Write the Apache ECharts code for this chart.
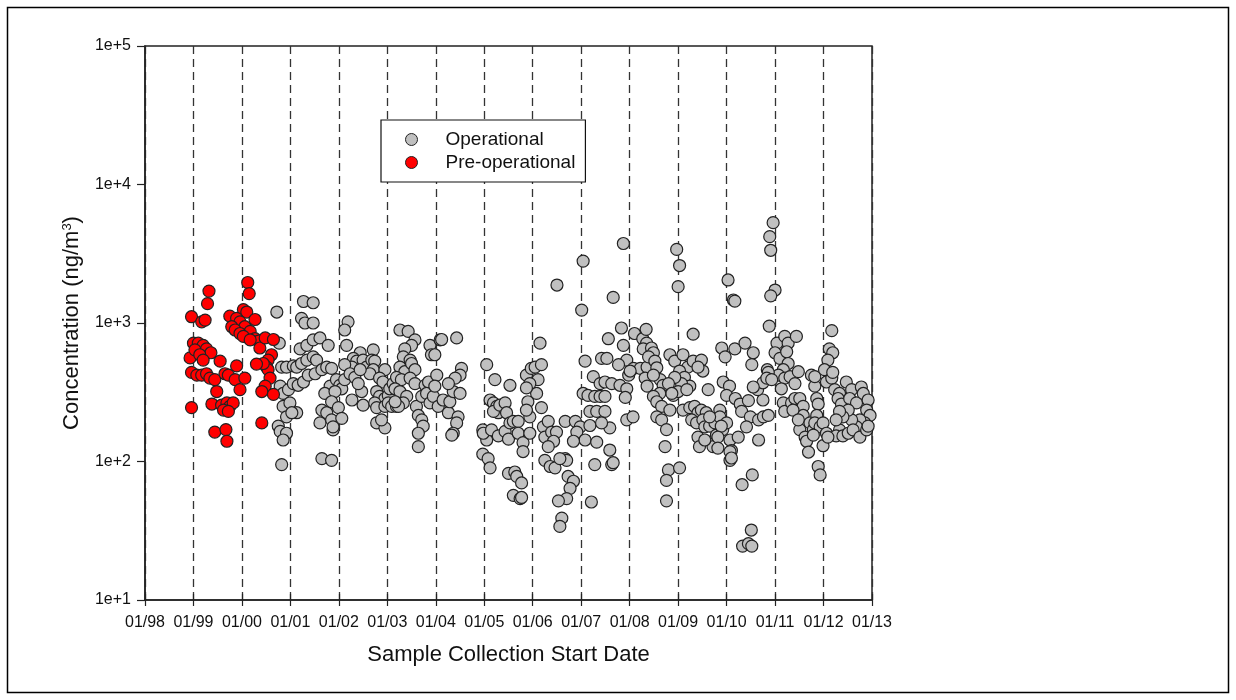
<!DOCTYPE html>
<html>
<head>
<meta charset="utf-8">
<script src="https://cdn.jsdelivr.net/npm/echarts@6/dist/echarts.min.js"></script>
<style>
  html, body { margin: 0; padding: 0; background: #fff; }
  #chart { width: 1236px; height: 700px; }
</style>
</head>
<body>
<div id="chart"></div>
<script>
// Sample start date (decimal year) and concentration (ng/m3)
const preOperational = [
  [1998.96,1110],[1999.17,1020],[1999.24,1050],[1999.32,1700],[1999.29,1380],[1999.0,715],[1999.1,715],
  [1999.2,690],[1999.27,650],[1999.36,610],[1998.93,560],[1999.03,640],[1999.13,590],[1999.2,540],
  [1998.96,440],[1999.07,420],[1999.17,420],[1999.27,430],[1999.34,400],[1999.44,390],[1999.55,530],
  [1999.65,430],[1999.72,420],[1999.89,490],[1999.86,390],[1999.96,330],[2000.06,400],[1999.48,320],
  [1998.96,245],[1999.38,260],[1999.58,255],[1999.69,265],[1999.75,250],[1999.82,265],[1999.62,235],
  [1999.72,230],[1999.44,163],[1999.67,170],[1999.69,140],[2000.12,1960],[2000.15,1630],[2000.03,1250],
  [2000.1,1200],[1999.75,1120],[1999.89,1080],[1999.96,1020],[2000.06,940],[2000.17,870],[2000.27,770],
  [2000.34,740],[2000.37,660],[2000.27,1060],[1999.79,940],[1999.86,890],[1999.96,840],[2000.03,800],
  [2000.17,755],[2000.48,780],[2000.65,760],[2000.61,590],[2000.54,540],[2000.51,480],[2000.54,460],
  [2000.44,510],[2000.3,505],[2000.58,400],[2000.48,350],[2000.41,320],[2000.65,305],[2000.41,190]
];

const operational = [
  // 2000 - 2001
  [2000.72,1200],[2000.77,715],[2000.82,480],[2000.92,480],[2001.06,490],[2001.13,480],[2001.23,510],
  [2001.34,540],[2001.47,570],[2001.54,540],[2001.2,650],[2001.34,690],[2001.47,755],[2001.61,780],
  [2001.78,690],[2001.27,1430],[2001.47,1400],[2001.23,1080],[2001.3,1000],[2001.47,1000],[2000.79,350],
  [2000.85,310],[2000.96,330],[2001.06,365],[2001.16,355],[2001.27,375],[2001.37,420],[2001.51,430],
  [2001.65,460],[2001.75,480],[2001.85,470],[2000.85,250],[2000.99,265],[2001.13,225],[2000.92,210],
  [2001.03,225],[2000.75,180],[2000.79,165],[2000.92,160],[2000.85,143],[2000.82,95],[2001.65,105],
  [2001.85,102],[2001.65,235],[2001.75,225],[2001.61,190],[2001.85,200],[2001.88,169],[2001.95,330],
  [2001.82,350],[2001.71,310],
  // 2002 - 2005
  [2002.19,1020],[2002.12,890],[2002.16,690],[2002.44,610],[2002.71,640],[2002.3,555],[2002.37,530],
  [2002.27,480],[2002.5,540],[2002.57,480],[2002.68,540],[2002.74,530],[2002.71,460],[2002.64,430],
  [2002.12,500],[2001.95,390],[2002.02,355],[2002.06,335],[2001.92,320],[2002.12,390],[2002.23,430],
  [2002.33,405],[2002.44,460],[2002.47,320],[2002.27,278],[2002.5,255],[2002.4,365],[2001.85,270],
  [2001.99,245],[2002.06,205],[2001.88,178],[2002.95,460],[2002.84,400],[2002.91,375],[2002.78,320],
  [2002.84,295],[2002.95,285],[2003.02,300],[2003.05,335],[2003.12,365],[2002.74,265],[2002.78,245],
  [2002.95,250],[2003.02,265],[2003.09,250],[2003.19,250],[2002.78,190],[2002.95,175],[2002.88,200],
  [2003.26,890],[2003.43,870],[2003.57,755],[2003.5,690],[2003.36,650],[2003.33,570],[2003.47,540],
  [2003.26,480],[2003.36,445],[2003.5,510],[2003.57,460],[2003.19,405],[2003.29,390],[2003.47,400],
  [2003.57,365],[2003.16,335],[2003.26,320],[2003.4,295],[2003.33,265],[2003.23,250],[2003.16,270],
  [2003.6,250],[2003.71,295],[2003.78,355],[2003.85,375],[2003.88,690],[2003.91,590],[2003.98,590],
  [2004.09,755],[2004.12,760],[2004.43,780],[2003.64,215],[2003.71,200],[2003.74,180],[2003.64,160],
  [2003.64,128],[2003.81,310],[2003.88,265],[2003.95,295],[2004.02,420],[2003.98,350],[2004.05,250],
  [2004.15,278],[2004.26,225],[2004.29,270],[2004.36,320],[2004.46,210],[2004.43,190],[2004.36,160],
  [2004.33,155],[2004.5,310],[2004.53,470],[2004.5,420],[2004.4,400],[2004.26,365],[2005.05,500],
  [2005.22,390],[2005.12,278],[2005.19,265],[2005.26,250],[2005.29,225],[2005.19,230],[2004.97,169],
  [2005.05,143],[2004.97,113],[2005.08,105],[2005.12,90],
  // 2005 - 2008
  [2007.04,2800],[2006.5,1880],[2007.01,1240],[2007.66,1530],[2007.83,920],[2008.1,840],[2008.27,770],
  [2008.34,900],[2007.56,770],[2006.15,715],[2005.53,355],[2005.87,420],[2005.97,470],[2006.05,480],
  [2006.18,500],[2006.11,390],[2006.08,310],[2006.18,245],[2005.94,365],[2005.87,340],[2005.9,270],
  [2005.94,210],[2005.87,235],[2005.32,255],[2005.43,265],[2005.46,225],[2004.98,160],[2005.15,169],
  [2005.29,153],[2005.43,165],[2005.53,190],[2005.6,195],[2005.7,195],[2005.5,145],[2005.7,160],
  [2005.8,137],[2005.8,118],[2005.94,160],[2005.5,82],[2005.63,84],[2005.67,78],[2005.77,70],
  [2005.6,57],[2005.74,54],[2005.77,55],[2006.22,178],[2006.32,195],[2006.25,150],[2006.39,163],
  [2006.49,163],[2006.43,140],[2006.32,128],[2006.25,102],[2006.36,92],[2006.46,90],[2006.67,105],
  [2006.7,102],[2006.56,105],[2006.73,78],[2006.84,72],[2006.77,64],[2006.7,54],[2006.53,52],
  [2006.6,39],[2006.56,34],[2007.21,51],[2006.67,195],[2006.88,195],[2006.98,178],[2006.91,163],
  [2007.08,143],[2006.84,140],[2007.18,182],[2007.32,138],[2007.28,95],[2007.59,121],[2007.63,95],
  [2007.66,98],[2007.08,530],[2007.25,410],[2007.39,365],[2007.49,375],[2007.63,365],[2007.8,355],
  [2007.94,335],[2007.91,290],[2007.04,310],[2007.14,300],[2007.28,295],[2007.39,295],[2007.49,295],
  [2007.18,230],[2007.32,230],[2007.49,230],[2007.59,175],[2007.42,190],[2007.94,200],[2008.07,210],
  [2007.42,555],[2007.53,555],[2007.87,690],[2007.94,540],[2007.77,500],[2007.98,420],[2008.08,470],
  [2008.22,470],[2008.36,480],[2008.32,400],[2008.36,350],
  // 2008 - 2010
  [2007.87,3750],[2008.97,3400],[2009.03,2600],[2009.0,1830],[2010.03,2045],[2010.14,1466],[2010.17,1440],
  [2009.31,830],[2009.9,660],[2009.97,570],[2010.17,650],[2008.35,715],[2008.28,650],[2008.45,660],
  [2008.49,610],[2008.39,570],[2008.52,530],[2008.56,475],[2008.63,390],[2008.49,420],[2008.01,450],
  [2008.83,590],[2008.93,530],[2009.1,590],[2009.2,480],[2009.31,530],[2009.48,540],[2009.51,450],
  [2009.41,480],[2009.03,450],[2009.13,405],[2009.24,350],[2009.07,365],[2008.93,405],[2008.9,300],
  [2009.0,320],[2009.18,330],[2008.69,355],[2008.8,365],[2008.87,310],[2008.62,310],[2008.49,295],
  [2008.56,270],[2008.66,250],[2008.56,210],[2008.66,200],[2008.76,170],[2008.83,235],[2008.73,128],
  [2008.8,87],[2008.76,73],[2009.03,90],[2008.76,52],[2009.1,235],[2009.24,245],[2009.34,250],
  [2009.41,225],[2009.48,235],[2009.58,225],[2009.28,200],[2009.38,190],[2009.51,200],[2009.41,150],
  [2009.44,128],[2009.55,178],[2009.65,180],[2009.76,190],[2009.86,235],[2009.79,155],[2009.72,128],
  [2009.92,170],[2010.07,143],[2010.1,120],[2010.07,102],[2009.86,210],[2010.0,190],
  // 2010 - 2011
  [2010.96,5300],[2010.89,4200],[2010.91,3350],[2011.0,1730],[2010.91,1570],[2010.88,950],
  [2010.38,715],[2010.55,610],[2010.52,500],[2009.62,330],[2009.93,375],[2010.06,350],[2010.0,300],
  [2010.18,285],[2010.28,260],[2010.31,230],[2010.45,275],[2010.49,210],[2010.66,200],[2010.76,210],
  [2010.86,215],[2010.75,278],[2010.64,330],[2010.75,370],[2010.88,410],[2010.84,460],[2010.55,345],
  [2009.65,210],[2009.55,143],[2009.89,180],[2009.82,150],[2009.82,125],[2010.07,118],[2010.1,106],
  [2010.24,150],[2010.41,178],[2010.66,143],[2010.32,68],[2010.53,80],[2010.51,32],[2010.33,24.5],
  [2010.45,25.5],[2010.52,24.5],
  // 2011 - 2012
  [2011.04,715],[2011.2,800],[2011.27,715],[2011.44,800],[2011.0,610],[2011.1,555],[2011.24,620],
  [2011.27,510],[2011.17,460],[2011.07,420],[2010.86,440],[2010.83,400],[2010.93,390],[2011.2,400],
  [2011.31,410],[2011.48,445],[2011.41,365],[2011.13,335],[2011.17,265],[2011.2,230],[2011.34,265],
  [2011.41,285],[2011.51,285],[2011.58,250],[2011.58,215],[2011.51,170],[2011.62,150],[2011.65,140],
  [2011.69,117],[2011.37,235],[2011.48,200],[2011.72,190],[2011.79,170],[2011.82,350],[2011.86,285],
  [2011.89,260],[2011.86,215],[2011.82,190],[2011.93,178],[2011.99,190],[2012.06,160],[2011.99,130],
  [2011.79,155],[2011.75,420],[2011.82,410],[2011.89,92],[2011.93,80],
  // 2012 - 2013
  [2012.17,880],[2012.12,650],[2012.19,610],[2012.09,540],[2012.02,460],[2012.06,375],[2012.17,400],
  [2012.19,440],[2012.23,330],[2012.33,310],[2012.3,285],[2012.37,260],[2012.47,375],[2012.58,330],
  [2012.54,285],[2012.68,265],[2012.78,345],[2012.82,310],[2012.92,278],[2012.89,235],[2012.96,215],
  [2012.85,190],[2012.75,200],[2012.68,178],[2012.58,200],[2012.51,235],[2012.4,210],[2012.33,169],
  [2012.26,153],[2012.4,153],[2012.51,160],[2012.61,169],[2012.75,150],[2012.89,169],[2012.92,180],
  [2012.33,230],[2012.26,200],[2012.09,150]
];

// Axis extents
const yearRange = [1998, 2013];
const concRange = [10, 100000];

const FONT = '"Liberation Sans", Arial, sans-serif';
const INK = '#111';

const chart = echarts.init(document.getElementById('chart'), null, { renderer: 'canvas' });

const sharedX = {
  type: 'value',
  min: yearRange[0],
  max: yearRange[1],
  interval: 1,
  gridIndex: 0
};

chart.setOption({
  backgroundColor: '#fff',
  animation: false,
  textStyle: { fontFamily: FONT, color: INK },
  graphic: [{
    type: 'rect',
    shape: { x: 7.5, y: 7.5, width: 1221, height: 685 },
    style: { fill: 'none', stroke: '#000', lineWidth: 1.5 },
    silent: true
  }],
  grid: {
    left: 145, right: 364, top: 46, bottom: 100,
    show: true, borderColor: '#222', borderWidth: 1.5, backgroundColor: 'transparent'
  },
  legend: {
    left: 381, top: 120,
    orient: 'vertical',
    backgroundColor: '#fff',
    borderColor: '#111', borderWidth: 1.2,
    padding: [8, 10, 8, 24],
    itemGap: 0,
    itemWidth: 12, itemHeight: 12,
    textStyle: { fontSize: 19, fontFamily: FONT, color: INK, lineHeight: 23, padding: [0, 0, 0, 23] },
    data: [
      { name: 'Operational', icon: 'circle', itemStyle: { color: '#c0c0c0', borderColor: '#222', borderWidth: 1 } },
      { name: 'Pre-operational', icon: 'circle', itemStyle: { color: '#ff0000', borderColor: '#222', borderWidth: 1 } }
    ]
  },
  xAxis: [
    Object.assign({}, sharedX, {
      name: 'Sample Collection Start Date',
      nameLocation: 'middle',
      nameGap: 44,
      nameTextStyle: { fontSize: 22, fontFamily: FONT, color: INK },
      axisLine: { show: true, onZero: false, lineStyle: { color: '#222', width: 1.5 } },
      axisTick: { show: true, inside: false, length: 6, lineStyle: { color: '#222', width: 1.2 } },
      axisLabel: {
        margin: 15, fontSize: 16, fontFamily: FONT, color: INK,
        formatter: v => '01/' + String(v).slice(2)
      },
      splitLine: { show: true, lineStyle: { color: '#333', width: 1.3, type: [8, 5] } }
    }),
    // upper half of the crossing ticks on the date axis
    Object.assign({}, sharedX, {
      position: 'bottom',
      axisLine: { show: false },
      axisTick: { show: true, inside: true, length: 6, lineStyle: { color: '#222', width: 1.2 } },
      axisLabel: { show: false },
      splitLine: { show: false }
    })
  ],
  yAxis: {
    type: 'log',
    logBase: 10,
    min: concRange[0],
    max: concRange[1],
    name: 'Concentration (ng/m{sup|3})',
    nameLocation: 'middle',
    nameGap: 62,
    nameTextStyle: {
      fontSize: 22, fontFamily: FONT, color: INK,
      rich: { sup: { fontSize: 13, fontFamily: FONT, color: INK, verticalAlign: 'top', lineHeight: 22 } }
    },
    axisLine: { show: true, lineStyle: { color: '#222', width: 1.5 } },
    axisTick: { show: true, inside: false, length: 8, lineStyle: { color: '#222', width: 1.2 } },
    minorTick: { show: false },
    axisLabel: {
      margin: 14, fontSize: 16, fontFamily: FONT, color: INK,
      formatter: v => '1e+' + Math.round(Math.log10(v))
    },
    splitLine: { show: false }
  },
  series: [
    {
      name: 'Operational',
      type: 'scatter',
      xAxisIndex: 0,
      symbol: 'circle',
      symbolSize: 12,
      itemStyle: { color: '#c0c0c0', borderColor: '#222', borderWidth: 1.2, opacity: 1 },
      data: operational,
      z: 3
    },
    {
      name: 'Pre-operational',
      type: 'scatter',
      xAxisIndex: 0,
      symbol: 'circle',
      symbolSize: 12,
      itemStyle: { color: '#ff0000', borderColor: '#222', borderWidth: 1.2, opacity: 1 },
      data: preOperational,
      z: 4
    }
  ]
});
</script>
</body>
</html>
